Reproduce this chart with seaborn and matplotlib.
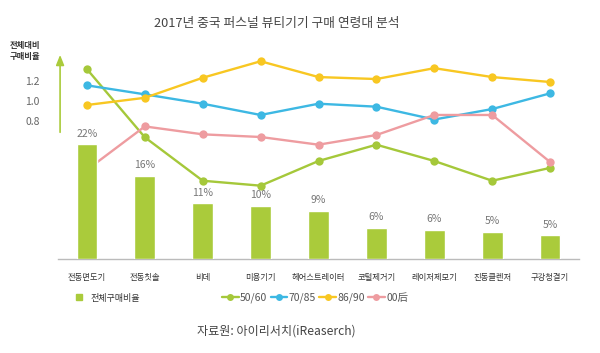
import pandas as pd
import matplotlib.pyplot as plt
from matplotlib.lines import Line2D
import seaborn as sns

# Data
categories = ["전동면도기", "전동칫솔", "비데", "미용기기", "헤어스트레이터",
              "코털제거기", "레이저제모기", "진동클렌저", "구강청결기"]
bar_share = [22.1, 16.0, 10.7, 10.2, 9.3, 6.0, 5.6, 5.25, 4.6]
bar_labels = ["22%", "16%", "11%", "10%", "9%", "6%", "6%", "5%", "5%"]

age_50_60 = [1.32, 0.63, 0.19, 0.14, 0.39, 0.555, 0.39, 0.19, 0.32]
age_70_85 = [1.156, 1.065, 0.97, 0.856, 0.97, 0.94, 0.81, 0.916, 1.075]
age_86_90 = [0.957, 1.03, 1.233, 1.40, 1.24, 1.22, 1.33, 1.24, 1.19]
age_00 = [0.30, 0.74, 0.66, 0.633, 0.555, 0.653, 0.856, 0.856, 0.38]

series_names = ["50/60", "70/85", "86/90", "00后"]
ratio_ticks = [0.8, 1.0, 1.2]

bar_green = "#AACB3B"
palette = {"50/60": "#A5C83A", "70/85": "#3DB8E3", "86/90": "#F8C722", "00后": "#EE9CA0"}

# long table for seaborn
pos = list(range(len(categories)))
lines = pd.DataFrame({
    "pos": pos * 4,
    "ratio": age_50_60 + age_70_85 + age_86_90 + age_00,
    "age": [n for n in series_names for _ in pos],
})

sns.set_theme(style="white")
plt.rcParams["font.family"] = ["Noto Sans CJK KR", "DejaVu Sans"]

fig = plt.figure(figsize=(6, 3.53), dpi=100)
ax = fig.add_axes([58 / 600, 94 / 353, 521 / 600, 209 / 353])

sns.lineplot(data=lines, x="pos", y="ratio", hue="age", palette=palette,
             marker="o", markersize=6, markeredgewidth=0, linewidth=1.7,
             legend=False, ax=ax)

# bars on a twin axis so they sit above the lines
ax_bar = ax.twinx()
sns.barplot(x=pos, y=bar_share, color=bar_green, width=0.36,
            saturation=1, ax=ax_bar, native_scale=True)
ax_bar.bar_label(ax_bar.containers[0], labels=bar_labels, padding=4,
                 fontsize=7.5, color="#777777")

ax.set_xlim(-0.5, 8.5)
ax.set_ylim(-0.6025, 1.514)
ax_bar.set_ylim(0, 40.2)

ax.set_xticks(pos, categories)
ax.set_yticks(ratio_ticks, [f"{t:.1f}" for t in ratio_ticks])
ax.tick_params(axis="x", length=0, pad=10, labelsize=6, labelcolor="#333333")
ax.tick_params(axis="y", length=0, pad=13, labelsize=7.5, labelcolor="#666666")
ax.set_xlabel("")
ax.set_ylabel("")
ax_bar.set_ylabel("")
ax_bar.set_yticks([])

for s in ["top", "left", "right"]:
    ax.spines[s].set_visible(False)
for s in ax_bar.spines.values():
    s.set_visible(False)
ax.spines["bottom"].set_color("#BBBBBB")
ax.spines["bottom"].set_linewidth(1)

# green arrow as the ratio axis
ax.annotate("", xy=(0.004, 0.99), xytext=(0.004, 0.593), xycoords="axes fraction",
            arrowprops=dict(arrowstyle="-|>,head_length=0.5,head_width=0.2",
                            color=bar_green, lw=1.2), annotation_clip=False)

fig.text(25 / 600, 1 - 51 / 353, "전체대비\n구매비율", ha="center", va="center",
         fontsize=6, fontweight="bold", color="#333333", linespacing=1.3)
fig.text(277 / 600, 1 - 23 / 353, "2017년 중국 퍼스널 뷰티기기 구매 연령대 분석",
         ha="center", va="center", fontsize=9.2, color="#444444")
fig.text(276 / 600, 1 - 331 / 353, "자료원: 아이리서치(iReaserch)",
         ha="center", va="center", fontsize=8.7, color="#444444")

# legends
bar_handle = [Line2D([], [], marker="s", color=bar_green, linestyle="none", markersize=5)]
fig.legend(bar_handle, ["전체구매비율"], loc="center left",
           bbox_to_anchor=(70 / 600, 1 - 298 / 353), fontsize=6.5, frameon=False,
           handletextpad=0.3, borderaxespad=0, borderpad=0, labelcolor="#333333")

line_handles = [Line2D([], [], color=palette[n], marker="o", markersize=5,
                       lw=1.7, markeredgewidth=0) for n in series_names]
fig.legend(line_handles, series_names, loc="center left", ncol=4,
           bbox_to_anchor=(222 / 600, 1 - 298 / 353), fontsize=7.5, frameon=False,
           handlelength=1.6, handletextpad=0.15, columnspacing=0.3,
           borderaxespad=0, borderpad=0, labelcolor="#555555")

fig.savefig("out.png", dpi=100)
